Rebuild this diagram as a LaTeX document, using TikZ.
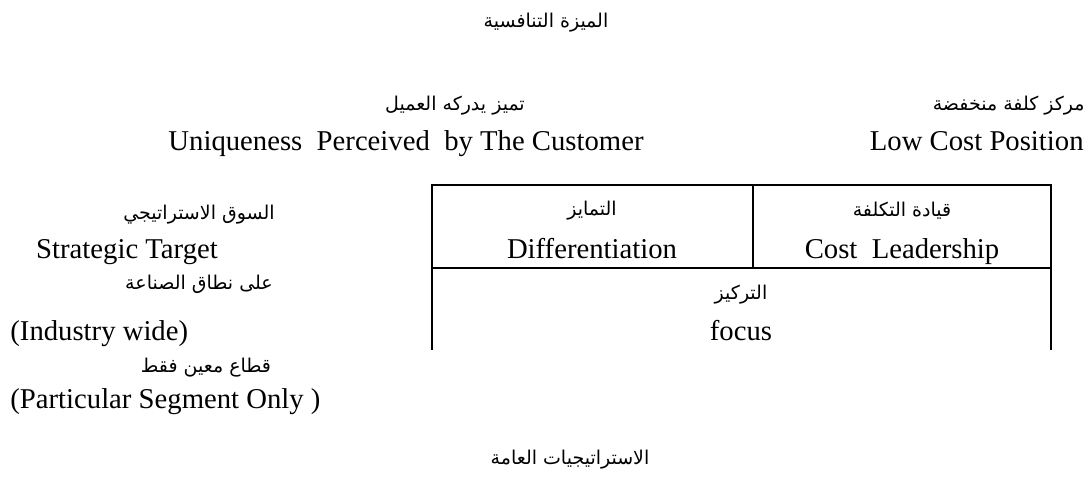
\documentclass[tikz,border=0pt]{standalone}
\usepackage{fontspec}
\usepackage{tikz}
\setmainfont{Liberation Serif}
\newfontfamily\arabicfont[Script=Arabic]{DejaVu Sans}
\TeXXeTstate=1
\newcommand{\artext}[1]{{\arabicfont\fontsize{9.5}{12}\selectfont\beginR #1\endR}}

\begin{document}
\begin{tikzpicture}[x=0.5pt, y=-0.5pt,
    every node/.style={font=\fontsize{14.35}{17}\selectfont, inner sep=0pt}]
			\useasboundingbox (0,0) rectangle (1091,477);
			\node (advantage) at (546,23) {\artext{الميزة التنافسية}};
			\node (uniqueAr) at (455,106) {\artext{تميز يدركه العميل}};
			\node (lowcostAr) [anchor=east] at (1085,106) {\artext{مركز كلفة منخفضة}};
			\node (unique) [anchor=base] at (406,150) {Uniqueness\ \ Perceived\ \ by The Customer};
			\node (lowcost) [anchor=base east] at (1084,150) {Low Cost Position};
			% table
			\draw[line width=1.2pt] (432,350) -- (432,185) -- (1051,185) -- (1051,350);
			\draw[line width=1.2pt] (432,268) -- (1051,268);
			\draw[line width=1.2pt] (753,185) -- (753,268);
			\node (diffAr) at (592,211) {\artext{التمايز}};
			\node (diff) [anchor=base] at (592,258) {Differentiation};
			\node (leadAr) at (902,211) {\artext{قيادة التكلفة}};
			\node (lead) [anchor=base] at (902,258) {Cost\ \ Leadership};
			\node (focusAr) at (741,295) {\artext{التركيز}};
			\node (focus) [anchor=base] at (741,340) {focus};
			% left side
			\node (targetAr) at (199,215) {\artext{السوق الاستراتيجي}};
			\node (target) [anchor=base] at (127,258) {Strategic Target};
			\node (wideAr) at (199,284) {\artext{على نطاق الصناعة}};
			\node (wide) [anchor=base west] at (10,340) {(Industry wide)};
			\node (segmentAr) at (206,368) {\artext{قطاع معين فقط}};
			\node (segment) [anchor=base west] at (10,408) {(Particular Segment Only )};
			\node (generic) at (570,460) {\artext{الاستراتيجيات العامة}};
		\end{tikzpicture}
\end{document}
